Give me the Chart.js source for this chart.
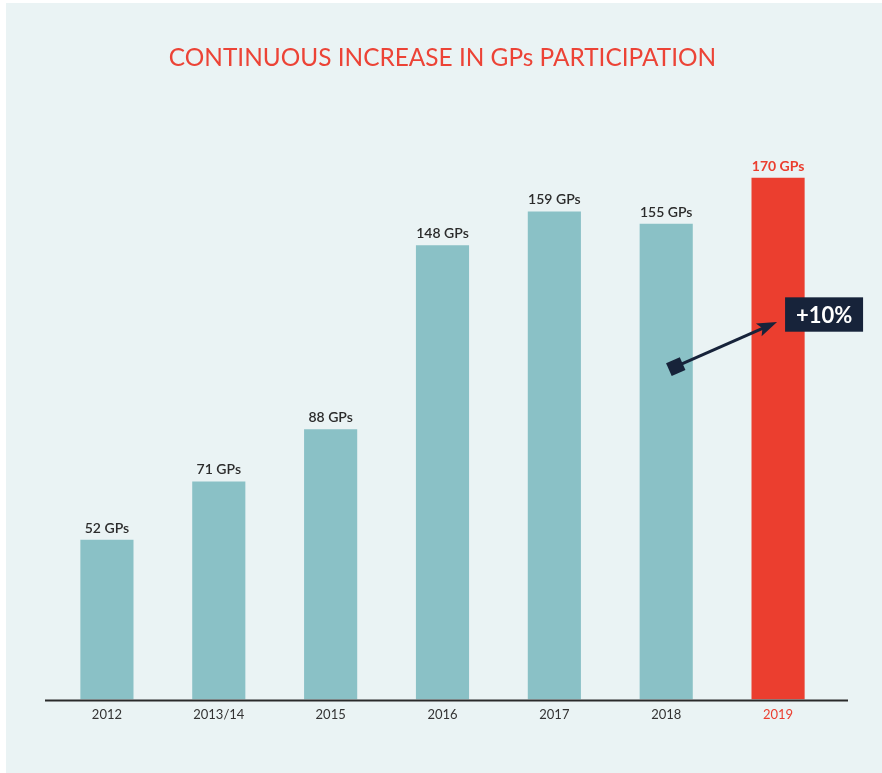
<!DOCTYPE html>
<html>
<head>
<meta charset="utf-8">
<script src="https://cdn.jsdelivr.net/npm/chart.js@4.4.0/dist/chart.umd.min.js"></script>
<style>
  html, body { margin: 0; padding: 0; background: #ffffff; }
  #wrap { position: absolute; left: 0; top: 0; width: 882px; height: 773px; }
</style>
</head>
<body>
<div id="wrap"><canvas id="c" width="882" height="773"></canvas></div>
<script>
const categories = ["2012", "2013/14", "2015", "2016", "2017", "2018", "2019"];
const gpValues = [52, 71, 88, 148, 159, 155, 170];
const valueLabels = ["52 GPs", "71 GPs", "88 GPs", "148 GPs", "159 GPs", "155 GPs", "170 GPs"];
const titleText = "CONTINUOUS INCREASE IN GPs PARTICIPATION";
const growthLabel = "+10%";

const TEAL = "#8AC1C6";
const RED = "#EB3E2F";
const NAVY = "#17233A";
const BG = "#EAF3F4";
const TEXT = "#2b2b2b";

const barColors = categories.map((c, i) => i === categories.length - 1 ? RED : TEAL);

const bgPlugin = {
  id: "bg",
  beforeDraw(chart) {
    const ctx = chart.ctx;
    ctx.save();
    ctx.fillStyle = "#ffffff";
    ctx.fillRect(0, 0, chart.width, chart.height);
    ctx.fillStyle = BG;
    ctx.fillRect(6, 3, chart.width - 6, chart.height - 3);
    ctx.restore();
  }
};

const decoPlugin = {
  id: "deco",
  afterDatasetsDraw(chart) {
    const ctx = chart.ctx;
    const xs = chart.scales.x, ys = chart.scales.y;
    const area = chart.chartArea;
    ctx.save();
    // axis line
    ctx.strokeStyle = "#2a2a2a";
    ctx.lineWidth = 2;
    ctx.beginPath();
    ctx.moveTo(area.left - 6, ys.getPixelForValue(0) + 1);
    ctx.lineTo(area.right + 14, ys.getPixelForValue(0) + 1);
    ctx.stroke();

    // value labels
    ctx.textAlign = "center";
    ctx.textBaseline = "alphabetic";
    gpValues.forEach((v, i) => {
      const last = i === gpValues.length - 1;
      ctx.font = (last ? "bold " : "600 ") + "14px Lato";
      ctx.fillStyle = last ? RED : TEXT;
      ctx.fillText(valueLabels[i], xs.getPixelForValue(i), ys.getPixelForValue(v) - 7);
    });

    // arrow
    const i18 = categories.length - 2, i19 = categories.length - 1;
    const x0 = xs.getPixelForValue(i18) + 10, y0 = ys.getPixelForValue(108.5);
    const x1 = xs.getPixelForValue(i19) - 1, y1 = ys.getPixelForValue(123);
    const ang = Math.atan2(y1 - y0, x1 - x0);
    ctx.strokeStyle = NAVY;
    ctx.fillStyle = NAVY;
    ctx.lineWidth = 3;
    ctx.beginPath();
    ctx.moveTo(x0, y0);
    ctx.lineTo(x1 - 14 * Math.cos(ang), y1 - 14 * Math.sin(ang));
    ctx.stroke();
    // head
    ctx.save();
    ctx.translate(x1, y1);
    ctx.rotate(ang);
    ctx.beginPath();
    ctx.moveTo(0, 0);
    ctx.lineTo(-20, -7);
    ctx.lineTo(-16, 0);
    ctx.lineTo(-20, 7);
    ctx.closePath();
    ctx.fill();
    ctx.restore();
    // square tail
    ctx.save();
    ctx.translate(x0, y0);
    ctx.rotate(ang);
    ctx.fillRect(-8, -7, 15, 14);
    ctx.restore();

    // +10% box
    const bx = xs.getPixelForValue(i19) + 7;
    const byTop = ys.getPixelForValue(131);
    const byBot = ys.getPixelForValue(119.8);
    ctx.fillStyle = NAVY;
    ctx.fillRect(bx, byTop, 78, byBot - byTop);
    ctx.fillStyle = "#ffffff";
    ctx.font = "bold 22px Lato";
    ctx.textAlign = "center";
    ctx.textBaseline = "middle";
    ctx.fillText(growthLabel, bx + 39, (byTop + byBot) / 2 + 1);
    ctx.restore();
  }
};

new Chart(document.getElementById("c"), {
  type: "bar",
  data: {
    labels: categories,
    datasets: [{
      data: gpValues,
      backgroundColor: barColors,
      borderWidth: 0,
      barPercentage: 0.95,
      categoryPercentage: 0.5
    }]
  },
  options: {
    responsive: false,
    animation: false,
    devicePixelRatio: 1,
    layout: { padding: { left: 51, right: 48, top: 0, bottom: 42 } },
    plugins: {
      legend: { display: false },
      tooltip: { enabled: false },
      title: {
        display: true,
        text: titleText,
        color: "#EC4336",
        font: { family: "Lato", size: 24.4, weight: "normal" },
        padding: { top: 44, bottom: 0 }
      }
    },
    scales: {
      x: {
        grid: { display: false, drawTicks: false },
        border: { display: false },
        ticks: {
          color: (ctx) => ctx.index === categories.length - 1 ? RED : "#333333",
          font: { family: "Lato", size: 13 },
          padding: 8
        }
      },
      y: {
        display: false,
        min: 0,
        max: 204
      }
    }
  },
  plugins: [bgPlugin, decoPlugin]
});
</script>
</body>
</html>
